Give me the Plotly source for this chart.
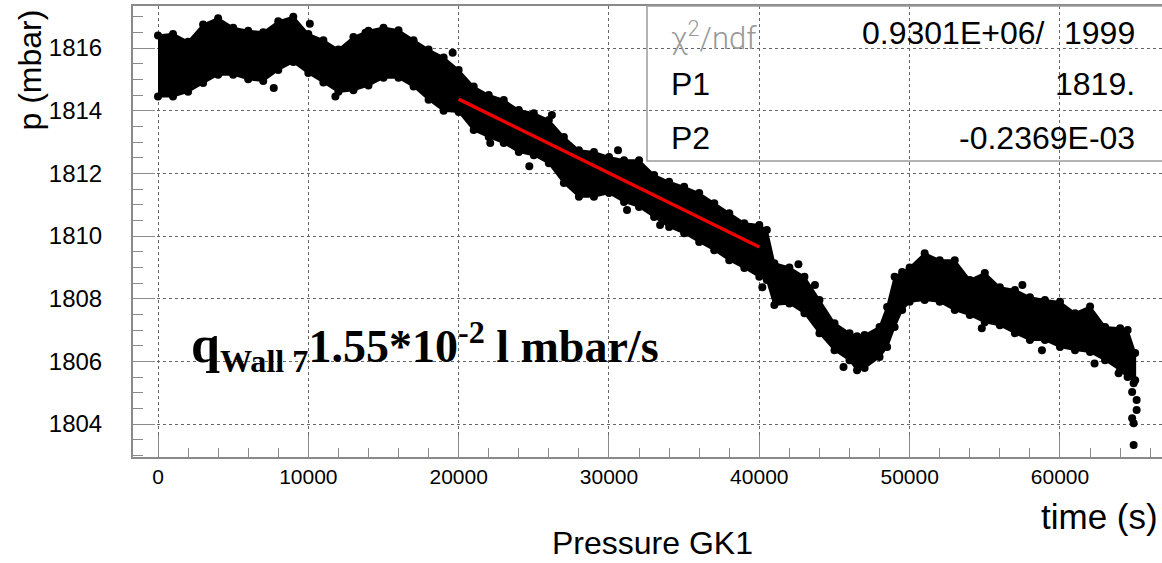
import plotly.graph_objects as go

# ---- data ----
# band of the dense measurement cloud: time (s), upper / lower edge of the point cloud (mbar)
time_s = [0, 1000, 2000, 3000, 4000, 5000, 6000, 7000, 8000, 9000,
          10000, 11000, 12000, 13000, 14000, 15000, 16000, 17000, 18000, 19000,
          20000, 21000, 22000, 23000, 24000, 25000, 26000, 27000, 28000, 29000,
          30000, 31000, 32000, 33000, 34000, 35000, 36000, 37000, 38000, 39000,
          40000, 40500, 41000, 42000, 43000, 44000, 45000, 46000, 46500, 47000,
          48000, 48500, 49000, 49500, 50000, 51000, 52000, 53000, 54000, 55000,
          56000, 57000, 58000, 59000, 60000, 61000, 62000, 63000, 64000, 64500, 65000]
p_upper = [1816.40, 1816.45, 1816.20, 1816.75, 1816.95, 1816.65, 1816.55, 1816.50, 1816.85, 1817.00,
           1816.45, 1816.25, 1815.95, 1816.35, 1816.55, 1816.65, 1816.57, 1816.25, 1815.95, 1815.70,
           1815.30, 1814.77, 1814.50, 1814.34, 1814.02, 1813.92, 1813.70, 1813.16, 1812.74, 1812.68,
           1812.52, 1812.42, 1812.42, 1811.95, 1811.73, 1811.57, 1811.37, 1811.05, 1810.73, 1810.41,
           1810.35, 1810.19, 1809.13, 1809.00, 1808.70, 1807.96, 1807.22, 1806.90, 1806.80, 1806.84,
           1807.10, 1807.74, 1808.70, 1808.85, 1809.00, 1809.45, 1809.23, 1809.23, 1808.60, 1808.82,
           1808.37, 1808.28, 1808.05, 1807.96, 1807.90, 1807.54, 1807.75, 1807.10, 1807.06, 1807.00, 1806.27]
p_lower = [1814.45, 1814.45, 1814.60, 1814.88, 1815.15, 1815.15, 1815.00, 1814.95, 1815.30, 1815.55,
           1815.20, 1814.90, 1814.60, 1814.65, 1814.80, 1815.05, 1815.05, 1814.77, 1814.35, 1814.00,
           1813.96, 1813.38, 1813.16, 1812.97, 1812.68, 1812.58, 1812.32, 1811.69, 1811.25, 1811.25,
           1811.37, 1811.09, 1810.93, 1810.61, 1810.29, 1810.09, 1809.81, 1809.55, 1809.23, 1808.98,
           1808.70, 1808.60, 1807.80, 1807.85, 1807.54, 1806.90, 1806.36, 1806.04, 1805.72, 1805.79,
           1806.14, 1806.46, 1807.10, 1807.64, 1807.90, 1807.96, 1807.90, 1807.64, 1807.48, 1807.25,
           1807.15, 1806.90, 1806.68, 1806.68, 1806.46, 1806.36, 1806.30, 1806.04, 1805.72, 1805.50, 1805.40]

# isolated points outside the band
out_t = [7700, 10100, 11800, 13800, 19600, 22100, 24700, 26200, 30600, 31200,
         33400, 40200, 42600, 43700, 45600, 54800, 57500, 58800, 62300, 63900]
out_p = [1814.72, 1816.77, 1814.45, 1816.49, 1815.85, 1812.97, 1812.23, 1813.86, 1812.74, 1810.83,
         1810.35, 1808.37, 1809.10, 1808.44, 1805.82, 1807.06, 1808.44, 1806.36, 1805.93, 1805.62]

# final drop at the end of the run
tail_t = [64900, 64800, 65100, 65100, 64800, 64900, 64900]
tail_p = [1805.30, 1805.02, 1804.77, 1804.45, 1804.19, 1804.03, 1803.33]

# linear fit segment
fit_t = [20000, 40000]
fit_p = [1814.37, 1809.65]

x_ticks = [0, 10000, 20000, 30000, 40000, 50000, 60000]
y_ticks = [1804, 1806, 1808, 1810, 1812, 1814, 1816]

fit_labels = ["P1", "P2"]
fit_values = ["1819.", "-0.2369E-03"]
chi2_value = "0.9301E+06/"
ndf_value = "1999"

# ---- figure ----
W, H = 1162, 563
L, R, T, B = 133, 0, 6, 106
pw, ph = W - L - R, H - T - B


def px(x):
    return (x - L) / pw


def py(y):
    return (H - B - y) / ph


fig = go.Figure()

band_x = time_s + time_s[::-1]
band_y = p_upper + p_lower[::-1]
fig.add_trace(go.Scatter(x=band_x, y=band_y, fill="toself", fillcolor="black",
                         mode="lines", line=dict(color="black", width=2),
                         hoverinfo="skip", showlegend=False))
fig.add_trace(go.Scatter(x=time_s + time_s, y=p_upper + p_lower, mode="markers",
                         marker=dict(color="black", size=8, symbol="circle"),
                         showlegend=False))
fig.add_trace(go.Scatter(x=out_t + tail_t, y=out_p + tail_p, mode="markers",
                         marker=dict(color="black", size=8, symbol="circle"),
                         showlegend=False))
fig.add_trace(go.Scatter(x=fit_t, y=fit_p, mode="lines",
                         line=dict(color="#ee0000", width=3.5), showlegend=False))

axis_col = "#8a8a8a"
fig.update_xaxes(range=[-1663, 66786], tickvals=x_ticks, ticktext=[str(v) for v in x_ticks],
                 ticks="inside", ticklen=22, tickwidth=1, tickcolor=axis_col,
                 showline=True, linecolor=axis_col, linewidth=2, mirror=True,
                 showgrid=True, gridcolor="#666666", griddash="dot", gridwidth=1,
                 zeroline=False,
                 minor=dict(tick0=0, dtick=2000, ticks="inside", ticklen=9,
                            tickcolor=axis_col, showgrid=False),
                 tickfont=dict(family="Liberation Sans", size=21, color="black"),
                 ticklabelstandoff=0)
fig.update_yaxes(range=[1802.95, 1817.34], tickvals=y_ticks, ticktext=[str(v) for v in y_ticks],
                 ticks="inside", ticklen=22, tickwidth=1, tickcolor=axis_col,
                 showline=True, linecolor=axis_col, linewidth=2, mirror=False,
                 showgrid=True, gridcolor="#666666", griddash="dot", gridwidth=1,
                 zeroline=False,
                 minor=dict(tick0=1804, dtick=0.5, ticks="inside", ticklen=10,
                            tickcolor=axis_col, showgrid=False),
                 tickfont=dict(family="Liberation Sans", size=24, color="black"),
                 ticklabelstandoff=24)

ann = []
sans = "Liberation Sans"
ann.append(dict(text="p (mbar)", x=px(30), y=py(8), xref="paper", yref="paper",
                textangle=-90, xanchor="center", yanchor="top", showarrow=False,
                font=dict(family=sans, size=32, color="black")))
ann.append(dict(text="Pressure GK1", x=px(652), y=py(543), xref="paper", yref="paper",
                xanchor="center", yanchor="middle", showarrow=False,
                font=dict(family=sans, size=32, color="black")))
ann.append(dict(text="time (s)", x=px(1160), y=py(516), xref="paper", yref="paper",
                xanchor="right", yanchor="middle", showarrow=False,
                font=dict(family=sans, size=35, color="black")))

# fit statistics box
ann.append(dict(text="\u03c7<sup>2</sup>/ndf", x=px(669), y=py(36), xref="paper", yref="paper",
                xanchor="left", yanchor="middle", showarrow=False,
                font=dict(family="Roboto", weight=300, size=31, color="#999999")))
ann.append(dict(text=chi2_value, x=px(1047), y=py(33), xref="paper", yref="paper",
                xanchor="right", yanchor="middle", showarrow=False,
                font=dict(family=sans, size=32, color="black")))
ann.append(dict(text=ndf_value, x=px(1137), y=py(33), xref="paper", yref="paper",
                xanchor="right", yanchor="middle", showarrow=False,
                font=dict(family=sans, size=32, color="black")))
for lab, val, yy in zip(fit_labels, fit_values, [84, 138]):
    ann.append(dict(text=lab, x=px(669), y=py(yy), xref="paper", yref="paper",
                    xanchor="left", yanchor="middle", showarrow=False,
                    font=dict(family=sans, size=32, color="black")))
    ann.append(dict(text=val, x=px(1137), y=py(yy), xref="paper", yref="paper",
                    xanchor="right", yanchor="middle", showarrow=False,
                    font=dict(family=sans, size=32, color="black")))

ann.append(dict(text="<span style='font-size:52px'>q</span><sub>Wall 7</sub>1.55*10<sup>-2</sup> l mbar/s",
                x=px(189), y=py(346), xref="paper", yref="paper",
                xanchor="left", yanchor="middle", showarrow=False,
                font=dict(family="Liberation Serif", weight="bold", size=46, color="black")))

fig.update_layout(annotations=ann,
                  shapes=[dict(type="rect", xref="paper", yref="paper",
                               x0=px(647), x1=1.02, y0=py(161), y1=1.0,
                               line=dict(color="#9a9a9a", width=1.5),
                               fillcolor="rgba(0,0,0,0)", layer="above")],
                  width=W, height=H, margin=dict(l=L, r=R, t=T, b=B, autoexpand=False),
                  paper_bgcolor="white", plot_bgcolor="white", showlegend=False)

fig.write_html("out.html", config={"displayModeBar": False},
               post_script="document.body.style.margin='0px';document.body.style.overflow='hidden';")
